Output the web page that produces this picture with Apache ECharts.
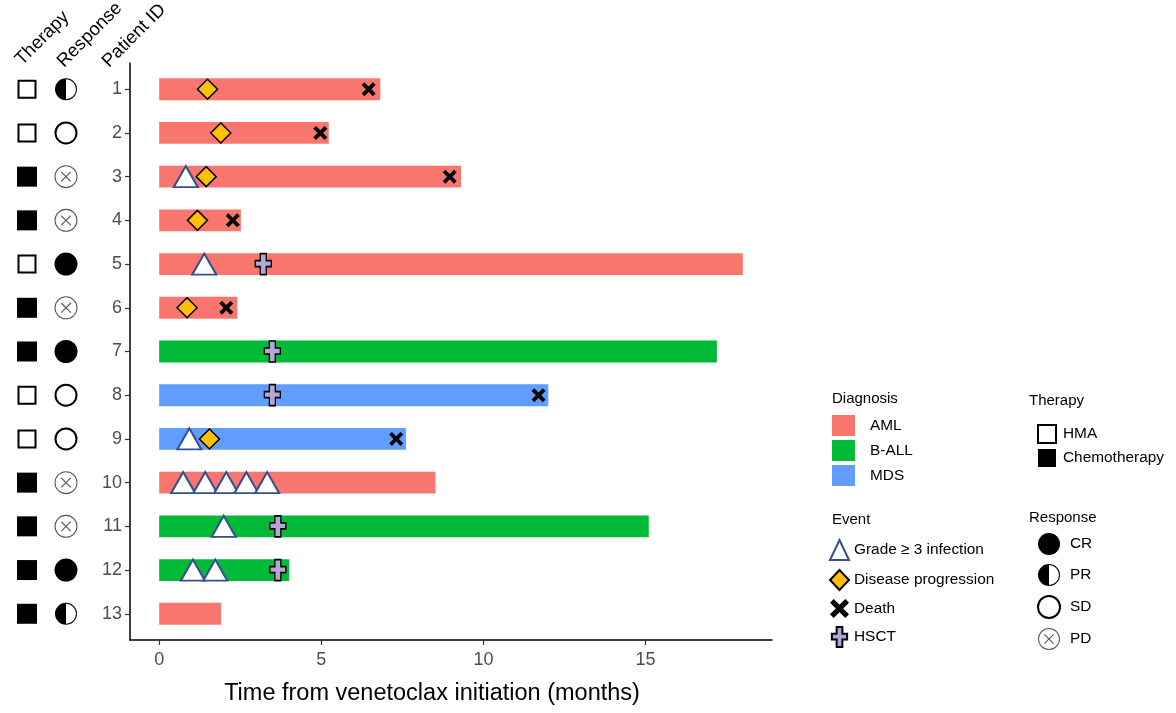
<!DOCTYPE html>
<html>
<head>
<meta charset="utf-8">
<script src="https://cdn.jsdelivr.net/npm/echarts@6/dist/echarts.min.js"></script>
<style>
html,body{margin:0;padding:0;background:#fff;}
#chart{width:1176px;height:713px;}
</style>
</head>
<body>
<div id="chart"></div>
<script>
// ---- data ----
const patients = [1,2,3,4,5,6,7,8,9,10,11,12,13];
const diagnosis = ['AML','AML','AML','AML','AML','AML','B-ALL','MDS','MDS','AML','B-ALL','B-ALL','AML'];
const duration = [6.82,5.23,9.31,2.52,18.0,2.41,17.2,12.0,7.61,8.52,15.1,4.01,1.91];
const therapy = ['HMA','HMA','Chemotherapy','Chemotherapy','HMA','Chemotherapy','Chemotherapy','HMA','HMA','Chemotherapy','Chemotherapy','Chemotherapy','Chemotherapy'];
const response = ['PR','SD','PD','PD','CR','PD','CR','SD','SD','PD','PD','CR','PR'];
// events: [patient, time in months]
const infection = [[3,0.82],[5,1.39],[9,0.93],[10,0.74],[10,1.42],[10,2.07],[10,2.69],[10,3.33],[11,1.99],[12,1.04],[12,1.73]];
const progression = [[1,1.49],[2,1.90],[3,1.45],[4,1.18],[6,0.86],[9,1.55]];
const death = [[1,6.46],[2,4.97],[3,8.96],[4,2.27],[6,2.07],[8,11.70],[9,7.31]];
const hsct = [[5,3.21],[7,3.49],[8,3.49],[11,3.66],[12,3.66]];
const xTicks = [0,5,10,15];
const diagNames = ['AML','B-ALL','MDS'];
const therapyNames = ['HMA','Chemotherapy'];
const responseNames = ['CR','PR','SD','PD'];
const eventNames = ['Grade ≥ 3 infection','Disease progression','Death','HSCT'];

// ---- styles ----
const FONT = 'Liberation Sans, Arial, sans-serif';
const diagColors = {'AML':'#F8766D','B-ALL':'#00BA38','MDS':'#619CFF'};
const PATH_X = 'path://M0,2.5 L2.5,0 L6.5,4 L10.5,0 L13,2.5 L9,6.5 L13,10.5 L10.5,13 L6.5,9 L2.5,13 L0,10.5 L4,6.5 Z';
const PATH_PLUS = 'path://M5,0 L11,0 L11,7 L16,7 L16,13 L11,13 L11,21 L5,21 L5,13 L0,13 L0,7 L5,7 Z';
const PATH_PR = 'path://M10,0 A10,10 0 0,0 10,20 Z M10,0 A10,10 0 0,1 10,20 L10,19.1 A9.1,9.1 0 0,0 10,0.9 Z';
const PATH_PD = 'path://M10,0 A10,10 0 1,1 10,20 A10,10 0 1,1 10,0 Z M10,0.9 A9.1,9.1 0 1,0 10,19.1 A9.1,9.1 0 1,0 10,0.9 Z ' +
  'M6.2,5.5 L14.5,13.8 L13.8,14.5 L5.5,6.2 Z M13.8,5.5 L14.5,6.2 L6.2,14.5 L5.5,13.8 Z';

const Y_MIN = 0.4, Y_MAX = 13.6;
const gridTop = 63, gridBottom = 73;

function barSeries(name){
  const data = [];
  patients.forEach((p,i)=>{ if (diagnosis[i]===name) data.push([0, p, duration[i]]); });
  return {
    type:'custom', name:name, xAxisIndex:0, yAxisIndex:0,
    itemStyle:{color:diagColors[name]},
    encode:{x:[0,2], y:1},
    data:data,
    renderItem:function(params, api){
      const y = api.value(1);
      const s = api.coord([api.value(0), y]);
      const e = api.coord([api.value(2), y]);
      const h = api.size([0, 0.5])[1];
      return {type:'rect', shape:{x:s[0], y:s[1]-h/2, width:e[0]-s[0], height:h}, style:api.style()};
    },
    z:1
  };
}
function evData(arr){ return arr.map(d=>[d[1], d[0]]); }

const series = [
  barSeries('AML'), barSeries('B-ALL'), barSeries('MDS'),
  {type:'scatter', name:eventNames[0], xAxisIndex:0, yAxisIndex:0, data:evData(infection),
   symbol:'triangle', symbolSize:[24,21], z:3,
   itemStyle:{color:'#ffffff', borderColor:'#34508F', borderWidth:2, opacity:1}},
  {type:'scatter', name:eventNames[1], xAxisIndex:0, yAxisIndex:0, data:evData(progression),
   symbol:'diamond', symbolSize:[20,20], z:4,
   itemStyle:{color:'#FFC000', borderColor:'#000000', borderWidth:1.5, opacity:1}},
  {type:'scatter', name:eventNames[2], xAxisIndex:0, yAxisIndex:0, data:evData(death),
   symbol:PATH_X, symbolSize:[14,14], z:5,
   itemStyle:{color:'#000000', opacity:1}},
  {type:'scatter', name:eventNames[3], xAxisIndex:0, yAxisIndex:0, data:evData(hsct),
   symbol:PATH_PLUS, symbolSize:[16,21], z:6,
   itemStyle:{color:'#B4A7D6', borderColor:'#000000', borderWidth:1.5, opacity:1}},
  // therapy column
  {type:'scatter', name:'HMA', xAxisIndex:1, yAxisIndex:1,
   data:patients.filter((p,i)=>therapy[i]==='HMA').map(p=>[0,p]),
   symbol:'rect', symbolSize:17, itemStyle:{color:'#ffffff', borderColor:'#000', borderWidth:2, opacity:1}},
  {type:'scatter', name:'Chemotherapy', xAxisIndex:1, yAxisIndex:1,
   data:patients.filter((p,i)=>therapy[i]==='Chemotherapy').map(p=>[0,p]),
   symbol:'rect', symbolSize:20, itemStyle:{color:'#000000', opacity:1}},
  // response column
  {type:'scatter', name:'CR', xAxisIndex:2, yAxisIndex:2,
   data:patients.filter((p,i)=>response[i]==='CR').map(p=>[0,p]),
   symbol:'circle', symbolSize:23, itemStyle:{color:'#000000', opacity:1}},
  {type:'scatter', name:'PR', xAxisIndex:2, yAxisIndex:2,
   data:patients.filter((p,i)=>response[i]==='PR').map(p=>[0,p]),
   symbol:PATH_PR, symbolSize:22, itemStyle:{color:'#000000', opacity:1}},
  {type:'scatter', name:'SD', xAxisIndex:2, yAxisIndex:2,
   data:patients.filter((p,i)=>response[i]==='SD').map(p=>[0,p]),
   symbol:'circle', symbolSize:21, itemStyle:{color:'#ffffff', borderColor:'#000', borderWidth:2, opacity:1}},
  {type:'scatter', name:'PD', xAxisIndex:2, yAxisIndex:2,
   data:patients.filter((p,i)=>response[i]==='PD').map(p=>[0,p]),
   symbol:PATH_PD, symbolSize:23, itemStyle:{color:'#555555', opacity:1}}
];

const hiddenY = (gi)=>({type:'value', gridIndex:gi, min:Y_MIN, max:Y_MAX, inverse:true, show:false});
const hiddenX = (gi)=>({type:'value', gridIndex:gi, min:-1, max:1, show:false});

const legendText = {fontSize:15.4, color:'#000', fontFamily:FONT};
const titleText = {fontSize:15, fontWeight:'normal', color:'#000', fontFamily:FONT};
const HEAD_ROT = 45*Math.PI/180;
const HEAD_FONT = '18.5px ' + FONT;
const option = {
  backgroundColor:'#ffffff',
  animation:false,
  textStyle:{fontFamily:FONT},
  grid:[
    {left:130, right:404, top:gridTop, bottom:gridBottom},
    {left:13, width:28, top:gridTop, bottom:gridBottom},
    {left:52, width:28, top:gridTop, bottom:gridBottom}
  ],
  xAxis:[
    {type:'value', gridIndex:0, min:-0.9, max:18.9,
     name:'Time from venetoclax initiation (months)', nameLocation:'middle', nameGap:42,
     nameTextStyle:{fontSize:23.5, color:'#000', fontFamily:FONT, padding:[0,38,0,0]},
     axisLine:{show:true, onZero:false, lineStyle:{color:'#000', width:1.5}},
     axisTick:{show:true, length:5, customValues:xTicks, lineStyle:{color:'#333', width:1.2}},
     axisLabel:{customValues:xTicks, fontSize:18, color:'#4D4D4D', margin:11, fontFamily:FONT},
     splitLine:{show:false}},
    hiddenX(1), hiddenX(2)
  ],
  yAxis:[
    {type:'value', gridIndex:0, min:Y_MIN, max:Y_MAX, inverse:true,
     axisLine:{show:true, onZero:false, lineStyle:{color:'#000', width:1.5}},
     axisTick:{show:true, length:5, customValues:patients, lineStyle:{color:'#333', width:1.2}},
     axisLabel:{customValues:patients, fontSize:18, color:'#4D4D4D', margin:8, fontFamily:FONT},
     splitLine:{show:false}},
    hiddenY(1), hiddenY(2)
  ],
  title:[
    {text:'Diagnosis', left:832, top:391, padding:0, textStyle:titleText},
    {text:'Therapy', left:1029, top:393, padding:0, textStyle:titleText},
    {text:'Event', left:832, top:512, padding:0, textStyle:titleText},
    {text:'Response', left:1029, top:510, padding:0, textStyle:titleText}
  ],
  legend:[
    {data:diagNames, orient:'vertical', left:832, top:415, padding:0, itemWidth:23, itemHeight:21, itemGap:4,
     icon:'rect', selectedMode:false, textStyle:Object.assign({padding:[0,0,0,10]}, legendText)},
    {data:therapyNames, orient:'vertical', left:1037, top:424, padding:0, itemWidth:18, itemHeight:18, itemGap:5,
     selectedMode:false, textStyle:Object.assign({padding:[0,0,0,2]}, legendText)},
    {data:eventNames, orient:'vertical', left:829, top:539, padding:0, itemWidth:19, itemHeight:20, itemGap:8,
     selectedMode:false, textStyle:Object.assign({padding:[0,0,0,0]}, legendText)},
    {data:responseNames, orient:'vertical', left:1037, top:533, padding:0, itemWidth:22, itemHeight:22, itemGap:9,
     selectedMode:false, textStyle:Object.assign({padding:[0,0,0,5]}, legendText)}
  ],
  graphic:[
    {type:'text', x:25, y:69, rotation:HEAD_ROT,
     style:{text:'Therapy', font:HEAD_FONT, fill:'#000', align:'left', verticalAlign:'bottom'}},
    {type:'text', x:67, y:71, rotation:HEAD_ROT,
     style:{text:'Response', font:HEAD_FONT, fill:'#000', align:'left', verticalAlign:'bottom'}},
    {type:'text', x:112, y:71, rotation:HEAD_ROT,
     style:{text:'Patient ID', font:HEAD_FONT, fill:'#000', align:'left', verticalAlign:'bottom'}}
  ],
  series:series
};
const chart = echarts.init(document.getElementById('chart'), null, {renderer:'canvas'});
chart.setOption(option);
</script>
</body>
</html>
